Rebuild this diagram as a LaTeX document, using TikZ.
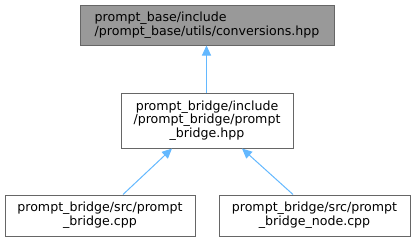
\documentclass[tikz,border=0pt]{standalone}
\usepackage{fontspec}
\setmainfont{DejaVu Sans}
\usepackage{xcolor}
\usepackage{tikz}
\usetikzlibrary{arrows.meta, positioning, calc}

\definecolor{edgegray}{HTML}{666666}
\definecolor{nodegray}{HTML}{999999}
\definecolor{linkblue}{HTML}{63B8FF}

\begin{document}
\begin{tikzpicture}[x=1pt, y=-1pt, >={Triangle[length=10pt, width=9pt]}]
    \tikzset{
        file/.style={rectangle, draw=edgegray, fill=white, line width=1pt, inner sep=0pt, align=center, font=\fontsize{12.6}{13.8}\selectfont},
        line/.style={draw=linkblue, line width=1pt, ->}
    }

    \useasboundingbox (0,0) rectangle (416,241);

    \node (Conversions) [file, fill=nodegray, align=left, minimum width=254pt, minimum height=40pt] at (207,25) {prompt\_base/include\\/prompt\_base/utils/conversions.hpp};

    \node (BridgeHpp) [file, minimum width=172pt, minimum height=55pt] at (207,120.5) {prompt\_bridge/include\\/prompt\_bridge/prompt\\\_bridge.hpp};

    \node (BridgeCpp) [file, minimum width=190pt, minimum height=41pt] at (100,215.5) {prompt\_bridge/src/prompt\\\_bridge.cpp};
    \node (NodeCpp) [file, minimum width=191pt, minimum height=41pt] at (314.5,215.5) {prompt\_bridge/src/prompt\\\_bridge\_node.cpp};

    \path [line] ([xshift=-0.5pt]BridgeHpp.north) -- ([xshift=-0.5pt]Conversions.south);
    \path [line] ([xshift=23pt]BridgeCpp.north) -- ([xshift=-35pt]BridgeHpp.south);
    \path [line] ([xshift=-21.5pt]NodeCpp.north) -- ([xshift=35pt]BridgeHpp.south);

\end{tikzpicture}
\end{document}
